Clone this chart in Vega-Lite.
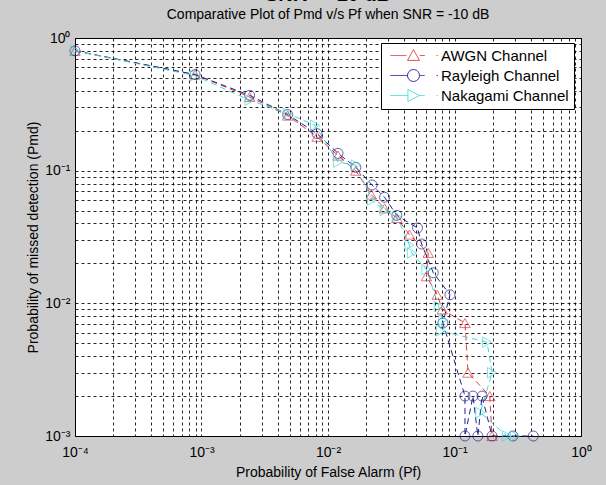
{
  "$schema": "https://vega.github.io/schema/vega-lite/v6.json",
  "width": 506,
  "height": 398,
  "autosize": "none",
  "padding": {"left": 75, "top": 38, "right": 25, "bottom": 49},
  "background": "#cdcdcd",
  "title": {
    "text": "SNR = -10 dB",
    "subtitle": "Comparative Plot of Pmd v/s Pf when SNR = -10 dB",
    "font": "Liberation Sans",
    "fontSize": 20,
    "fontWeight": "bold",
    "color": "black",
    "subtitleFont": "Liberation Sans",
    "subtitleFontSize": 14,
    "subtitleColor": "black",
    "subtitlePadding": 3,
    "anchor": "middle",
    "offset": 9
  },
  "data": {
    "values": [
      {"ch": "AWGN Channel", "i": 1, "pf": 0.0001, "pmd": 0.8},
      {"ch": "AWGN Channel", "i": 2, "pf": 0.00089, "pmd": 0.53},
      {"ch": "AWGN Channel", "i": 3, "pf": 0.0024, "pmd": 0.36},
      {"ch": "AWGN Channel", "i": 4, "pf": 0.0048, "pmd": 0.26},
      {"ch": "AWGN Channel", "i": 5, "pf": 0.0082, "pmd": 0.18},
      {"ch": "AWGN Channel", "i": 6, "pf": 0.012, "pmd": 0.13},
      {"ch": "AWGN Channel", "i": 7, "pf": 0.0166, "pmd": 0.1},
      {"ch": "AWGN Channel", "i": 8, "pf": 0.022, "pmd": 0.066},
      {"ch": "AWGN Channel", "i": 9, "pf": 0.028, "pmd": 0.052},
      {"ch": "AWGN Channel", "i": 10, "pf": 0.035, "pmd": 0.044},
      {"ch": "AWGN Channel", "i": 11, "pf": 0.044, "pmd": 0.033},
      {"ch": "AWGN Channel", "i": 12, "pf": 0.062, "pmd": 0.024},
      {"ch": "AWGN Channel", "i": 13, "pf": 0.06, "pmd": 0.016},
      {"ch": "AWGN Channel", "i": 14, "pf": 0.073, "pmd": 0.0116},
      {"ch": "AWGN Channel", "i": 15, "pf": 0.08, "pmd": 0.009},
      {"ch": "AWGN Channel", "i": 16, "pf": 0.121, "pmd": 0.0071},
      {"ch": "AWGN Channel", "i": 17, "pf": 0.128, "pmd": 0.003},
      {"ch": "AWGN Channel", "i": 18, "pf": 0.19, "pmd": 0.002},
      {"ch": "AWGN Channel", "i": 19, "pf": 0.198, "pmd": 0.001},
      {"ch": "Rayleigh Channel", "i": 1, "pf": 0.0001, "pmd": 0.8},
      {"ch": "Rayleigh Channel", "i": 2, "pf": 0.00089, "pmd": 0.53},
      {"ch": "Rayleigh Channel", "i": 3, "pf": 0.0024, "pmd": 0.37},
      {"ch": "Rayleigh Channel", "i": 4, "pf": 0.0048, "pmd": 0.265},
      {"ch": "Rayleigh Channel", "i": 5, "pf": 0.0082, "pmd": 0.19},
      {"ch": "Rayleigh Channel", "i": 6, "pf": 0.012, "pmd": 0.135},
      {"ch": "Rayleigh Channel", "i": 7, "pf": 0.0166, "pmd": 0.106},
      {"ch": "Rayleigh Channel", "i": 8, "pf": 0.0223, "pmd": 0.078},
      {"ch": "Rayleigh Channel", "i": 9, "pf": 0.028, "pmd": 0.063},
      {"ch": "Rayleigh Channel", "i": 10, "pf": 0.035, "pmd": 0.046},
      {"ch": "Rayleigh Channel", "i": 11, "pf": 0.051, "pmd": 0.037},
      {"ch": "Rayleigh Channel", "i": 12, "pf": 0.055, "pmd": 0.028},
      {"ch": "Rayleigh Channel", "i": 13, "pf": 0.068, "pmd": 0.017},
      {"ch": "Rayleigh Channel", "i": 14, "pf": 0.092, "pmd": 0.0116},
      {"ch": "Rayleigh Channel", "i": 15, "pf": 0.081, "pmd": 0.0071},
      {"ch": "Rayleigh Channel", "i": 16, "pf": 0.121, "pmd": 0.002},
      {"ch": "Rayleigh Channel", "i": 17, "pf": 0.121, "pmd": 0.001},
      {"ch": "Rayleigh Channel", "i": 18, "pf": 0.14, "pmd": 0.002},
      {"ch": "Rayleigh Channel", "i": 19, "pf": 0.153, "pmd": 0.001},
      {"ch": "Rayleigh Channel", "i": 20, "pf": 0.165, "pmd": 0.002},
      {"ch": "Rayleigh Channel", "i": 21, "pf": 0.198, "pmd": 0.001},
      {"ch": "Rayleigh Channel", "i": 22, "pf": 0.29, "pmd": 0.001},
      {"ch": "Rayleigh Channel", "i": 23, "pf": 0.42, "pmd": 0.001},
      {"ch": "Nakagami Channel", "i": 1, "pf": 0.0001, "pmd": 0.8},
      {"ch": "Nakagami Channel", "i": 2, "pf": 0.00089, "pmd": 0.52},
      {"ch": "Nakagami Channel", "i": 3, "pf": 0.0024, "pmd": 0.34},
      {"ch": "Nakagami Channel", "i": 4, "pf": 0.0048, "pmd": 0.27},
      {"ch": "Nakagami Channel", "i": 5, "pf": 0.0079, "pmd": 0.22},
      {"ch": "Nakagami Channel", "i": 6, "pf": 0.012, "pmd": 0.116},
      {"ch": "Nakagami Channel", "i": 7, "pf": 0.0166, "pmd": 0.11},
      {"ch": "Nakagami Channel", "i": 8, "pf": 0.0223, "pmd": 0.06},
      {"ch": "Nakagami Channel", "i": 9, "pf": 0.028, "pmd": 0.05},
      {"ch": "Nakagami Channel", "i": 10, "pf": 0.035, "pmd": 0.045},
      {"ch": "Nakagami Channel", "i": 11, "pf": 0.044, "pmd": 0.0275},
      {"ch": "Nakagami Channel", "i": 12, "pf": 0.046, "pmd": 0.024},
      {"ch": "Nakagami Channel", "i": 13, "pf": 0.06, "pmd": 0.018},
      {"ch": "Nakagami Channel", "i": 14, "pf": 0.075, "pmd": 0.0095},
      {"ch": "Nakagami Channel", "i": 15, "pf": 0.081, "pmd": 0.0075},
      {"ch": "Nakagami Channel", "i": 16, "pf": 0.078, "pmd": 0.0062},
      {"ch": "Nakagami Channel", "i": 17, "pf": 0.181, "pmd": 0.0051},
      {"ch": "Nakagami Channel", "i": 18, "pf": 0.198, "pmd": 0.003},
      {"ch": "Nakagami Channel", "i": 19, "pf": 0.16, "pmd": 0.0015},
      {"ch": "Nakagami Channel", "i": 20, "pf": 0.26, "pmd": 0.001},
      {"ch": "Nakagami Channel", "i": 21, "pf": 0.3, "pmd": 0.001}
    ]
  },
  "encoding": {
    "x": {
      "field": "pf",
      "type": "quantitative",
      "scale": {"type": "log", "domain": [0.0001, 1], "nice": false},
      "axis": {
        "title": "Probability of False Alarm (Pf)",
        "values": [0.0001, 0.0002, 0.0003, 0.0004, 0.0005, 0.0006, 0.0007, 0.0008, 0.0009, 0.001, 0.002, 0.003, 0.004, 0.005, 0.006, 0.007, 0.008, 0.009, 0.01, 0.02, 0.03, 0.04, 0.05, 0.06, 0.07, 0.08, 0.09, 0.1, 0.2, 0.3, 0.4, 0.5, 0.6, 0.7, 0.8, 0.9, 1],
        "labelExpr": "datum.value == 0.0001 ? '10⁻⁴' : datum.value == 0.001 ? '10⁻³' : datum.value == 0.01 ? '10⁻²' : datum.value == 0.1 ? '10⁻¹' : datum.value == 1 ? '10⁰' : ''",
        "labelOverlap": false,
        "labelFlush": false,
        "labelPadding": 9,
        "labelFontSize": 14,
        "titleFontSize": 14,
        "titleFontWeight": "normal",
        "titlePadding": 6,
        "ticks": false,
        "tickSize": 0,
        "domain": false,
        "grid": true,
        "gridColor": "black",
        "gridDash": [3, 3],
        "gridOpacity": 0.85
      }
    },
    "y": {
      "field": "pmd",
      "type": "quantitative",
      "scale": {"type": "log", "domain": [0.001, 1], "nice": false},
      "axis": {
        "title": "Probability of missed detection (Pmd)",
        "values": [0.001, 0.002, 0.003, 0.004, 0.005, 0.006, 0.007, 0.008, 0.009, 0.01, 0.02, 0.03, 0.04, 0.05, 0.06, 0.07, 0.08, 0.09, 0.1, 0.2, 0.3, 0.4, 0.5, 0.6, 0.7, 0.8, 0.9, 1],
        "labelExpr": "datum.value == 0.001 ? '10⁻³' : datum.value == 0.01 ? '10⁻²' : datum.value == 0.1 ? '10⁻¹' : datum.value == 1 ? '10⁰' : ''",
        "labelOverlap": false,
        "labelFlush": false,
        "labelPadding": 5,
        "labelFontSize": 14,
        "titleFontSize": 14,
        "titleFontWeight": "normal",
        "titlePadding": 4,
        "ticks": false,
        "tickSize": 0,
        "domain": false,
        "grid": true,
        "gridColor": "black",
        "gridDash": [3, 3],
        "gridOpacity": 0.85
      }
    },
    "color": {
      "field": "ch",
      "type": "nominal",
      "scale": {
        "domain": ["AWGN Channel", "Rayleigh Channel", "Nakagami Channel"],
        "range": ["#e03a40", "#202090", "#40dcd8"]
      },
      "legend": {
        "title": null,
        "orient": "none",
        "legendX": 306,
        "legendY": 5,
        "fillColor": "white",
        "strokeColor": "black",
        "padding": 5,
        "symbolSize": 196,
        "symbolOffset": 20,
        "labelOffset": 20,
        "labelFontSize": 15,
        "labelColor": "black",
        "rowPadding": 3,
        "symbolOpacity": 1,
        "symbolFillColor": "transparent",
        "symbolStrokeWidth": 1,
        "symbolDash": [1, 0]
      }
    },
    "order": {"field": "i", "type": "quantitative"}
  },
  "layer": [
    {"mark": {"type": "line", "strokeDash": [6, 4], "strokeWidth": 1}},
    {
      "mark": {"type": "point", "opacity": 0, "filled": false, "size": 196},
      "encoding": {
        "shape": {
          "field": "ch",
          "type": "nominal",
          "scale": {
            "domain": ["AWGN Channel", "Rayleigh Channel", "Nakagami Channel"],
            "range": [
              "M-3.3,0L-1,0M-0.85,0.7L0,-0.85L0.85,0.7ZM0.9,0L1.6,0M3.3,0L3.5,0",
              "M-3.3,0L-0.85,0M0.85,0A0.85,0.85,0,1,1,-0.85,0A0.85,0.85,0,1,1,0.85,0M0.85,0L1.6,0M3.3,0L3.5,0",
              "M-3.3,0L-0.8,0M-0.8,-0.85L0.85,0L-0.8,0.85ZM0.85,0L1.6,0M3.3,0L3.5,0"
            ]
          }
        }
      }
    },
    {
      "transform": [{"filter": "datum.ch === 'AWGN Channel'"}],
      "mark": {"type": "point", "shape": "triangle-up", "filled": false, "size": 110, "strokeWidth": 1}
    },
    {
      "transform": [{"filter": "datum.ch === 'Rayleigh Channel'"}],
      "mark": {"type": "point", "shape": "circle", "filled": false, "size": 100, "strokeWidth": 1}
    },
    {
      "transform": [{"filter": "datum.ch === 'Nakagami Channel'"}],
      "mark": {"type": "point", "shape": "triangle-right", "filled": false, "size": 110, "strokeWidth": 1}
    }
  ],
  "config": {
    "font": "Liberation Sans",
    "view": {"fill": "white", "stroke": "black", "strokeWidth": 1},
    "axis": {"labelColor": "black", "titleColor": "black"}
  }
}
